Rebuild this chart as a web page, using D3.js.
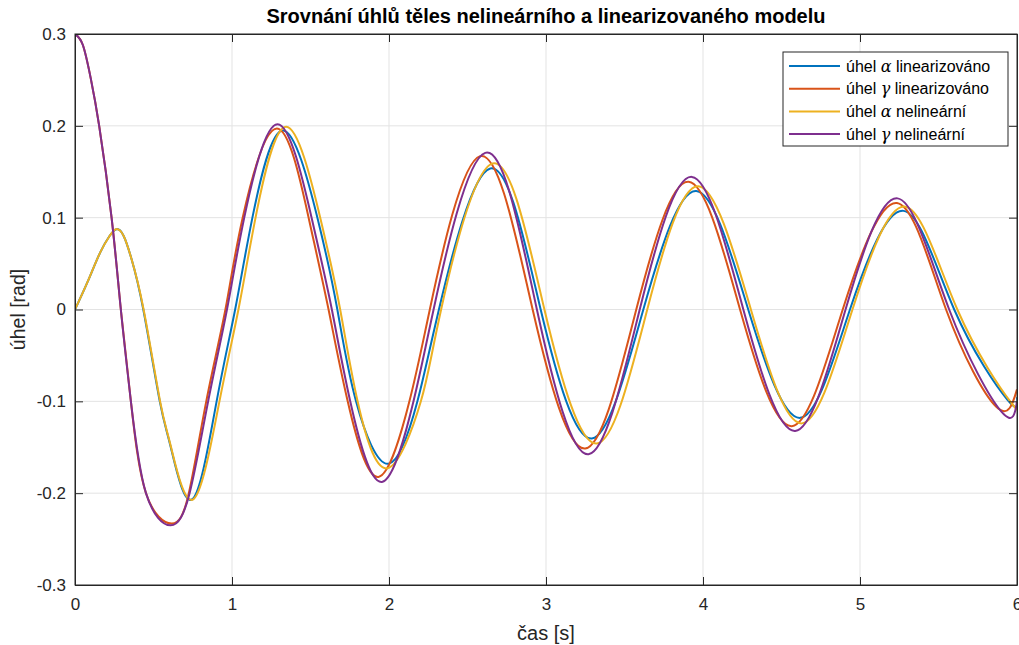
<!DOCTYPE html>
<html>
<head>
<meta charset="utf-8">
<script src="https://cdn.jsdelivr.net/npm/d3@7"></script>
<style>
	body { margin: 0; background: #fff; }
	svg { display: block; }
</style>
</head>
<body>
<div id="chart"></div>
<script>
// uhly teles - linearizovany vs nelinearni model

// [t, uhel] body (extremy a pruchody hladinami)
var alphaLin = [
	[0, 0], [0.08, 0.03], [0.16, 0.062], [0.22, 0.08], [0.265, 0.0875], [0.31, 0.08],
	[0.36, 0.055], [0.435, 0], [0.54, -0.1], [0.61, -0.15], [0.748, -0.2065],
	[0.902, -0.1], [1.02, 0], [1.13, 0.1], [1.325, 0.195], [1.544, 0.1], [1.671, 0],
	[1.79, -0.1], [1.997, -0.168], [2.181, -0.1], [2.318, 0], [2.645, 0.1536], [2.966, 0],
	[3.292, -0.1405], [3.62, 0], [3.957, 0.129], [4.288, 0], [4.619, -0.118], [4.936, 0],
	[5.277, 0.1074], [5.6, 0], [5.942, -0.0988], [6, -0.0955]
];
var gammaLin = [
	[0, 0.3], [0.05, 0.288], [0.1, 0.252], [0.154, 0.2], [0.233, 0.1], [0.292, 0],
	[0.356, -0.1], [0.452, -0.2], [0.616, -0.233], [0.725, -0.2], [0.836, -0.1], [0.958, 0],
	[1.068, 0.1], [1.286, 0.197], [1.488, 0.1], [1.615, 0], [1.737, -0.1], [1.933, -0.1823],
	[2.13, -0.1], [2.26, 0], [2.58, 0.167], [2.915, 0], [3.25, -0.1514], [3.575, 0],
	[3.908, 0.139], [4.236, 0], [4.566, -0.127], [4.89, 0], [5.235, 0.116], [5.548, 0],
	[5.868, -0.106], [6, -0.087]
];
var alphaNl = [
	[0, 0], [0.08, 0.03], [0.16, 0.062], [0.22, 0.08], [0.262, 0.0875], [0.31, 0.08],
	[0.36, 0.055], [0.437, 0], [0.542, -0.1], [0.612, -0.15], [0.755, -0.2065],
	[0.92, -0.1], [1.041, 0], [1.15, 0.1], [1.345, 0.199], [1.562, 0.1], [1.689, 0],
	[1.8, -0.1], [1.987, -0.173], [2.203, -0.1], [2.332, 0], [2.66, 0.159], [2.99, 0],
	[3.324, -0.146], [3.645, 0], [3.971, 0.1343], [4.305, 0], [4.63, -0.124], [4.952, 0],
	[5.288, 0.112], [5.62, 0], [5.964, -0.1017], [6, -0.1003]
];
var gammaNl = [
	[0, 0.3], [0.05, 0.288], [0.1, 0.252], [0.154, 0.2], [0.233, 0.1], [0.292, 0],
	[0.356, -0.1], [0.452, -0.2], [0.609, -0.235], [0.73, -0.2], [0.848, -0.1], [0.968, 0],
	[1.078, 0.1], [1.29, 0.2018], [1.507, 0.1], [1.636, 0], [1.753, -0.1], [1.955, -0.1878],
	[2.156, -0.1], [2.284, 0], [2.613, 0.1706], [2.942, 0], [3.271, -0.1576], [3.597, 0],
	[3.929, 0.1444], [4.257, 0], [4.587, -0.1322], [4.908, 0], [5.239, 0.121], [5.568, 0],
	[5.902, -0.1115], [6, -0.1]
];

var seriesNames = [
	["úhel ", "α", " linearizováno"],
	["úhel ", "γ", " linearizováno"],
	["úhel ", "α", " nelineární"],
	["úhel ", "γ", " nelineární"]
];
var seriesColors = ["#0072bd", "#d95319", "#edb120", "#7e2f8e"];
var xTicks = [0, 1, 2, 3, 4, 5, 6];
var yTicks = [-0.3, -0.2, -0.1, 0, 0.1, 0.2, 0.3];

drawChart();

function drawChart() {
	var w = 1019,
		h = 645,
		pLeft = 75,
		pRight = 1017,
		pTop = 34,
		pBottom = 585,
		tickLen = 8,
		textColor = "#262626",
		font = "'Liberation Sans', Arial, Helvetica, sans-serif";

	var svg = d3.select("#chart")
		.append("svg")
		.attr("width", w)
		.attr("height", h)
		.style("background", "#fff");

	var x = d3.scaleLinear().domain([0, 6]).range([pLeft, pRight]);
	var y = d3.scaleLinear().domain([-0.3, 0.3]).range([pBottom, pTop]);

	// mrizka
	svg.append("g")
		.selectAll("line")
		.data(xTicks.slice(1, -1))
		.enter().append("line")
		.attr("x1", function(d) { return x(d); })
		.attr("x2", function(d) { return x(d); })
		.attr("y1", pTop)
		.attr("y2", pBottom)
		.attr("stroke", "#e3e3e3")
		.attr("stroke-width", 1);

	svg.append("g")
		.selectAll("line")
		.data(yTicks.slice(1, -1))
		.enter().append("line")
		.attr("x1", pLeft)
		.attr("x2", pRight)
		.attr("y1", function(d) { return y(d); })
		.attr("y2", function(d) { return y(d); })
		.attr("stroke", "#e3e3e3")
		.attr("stroke-width", 1);

	svg.append("clipPath")
		.attr("id", "plotClip")
		.append("rect")
		.attr("x", pLeft)
		.attr("y", pTop)
		.attr("width", pRight - pLeft)
		.attr("height", pBottom - pTop);

	var line = d3.line()
		.x(function(d) { return x(d[0]); })
		.y(function(d) { return y(d[1]); })
		.curve(d3.curveNatural);

	var allSeries = [alphaLin, gammaLin, alphaNl, gammaNl];

	svg.append("g")
		.attr("clip-path", "url(#plotClip)")
		.selectAll("path")
		.data(allSeries)
		.enter().append("path")
		.attr("d", line)
		.attr("fill", "none")
		.attr("stroke", function(d, i) { return seriesColors[i]; })
		.attr("stroke-width", 2);

	// osy - spodni a leva s popisky, horni a prava jen ticky
	svg.append("g")
		.attr("transform", "translate(0," + pBottom + ")")
		.call(d3.axisBottom(x).tickValues(xTicks).tickSizeInner(-tickLen).tickSizeOuter(0).tickPadding(13)
			.tickFormat(function(d) { return String(d); }));

	svg.append("g")
		.attr("transform", "translate(" + pLeft + ",0)")
		.call(d3.axisLeft(y).tickValues(yTicks).tickSizeInner(-tickLen).tickSizeOuter(0).tickPadding(9)
			.tickFormat(function(d) { return d === 0 ? "0" : d.toFixed(1); }));

	svg.append("g")
		.attr("transform", "translate(0," + pTop + ")")
		.call(d3.axisTop(x).tickValues(xTicks).tickSizeInner(-tickLen).tickSizeOuter(0).tickFormat(""));

	svg.append("g")
		.attr("transform", "translate(" + pRight + ",0)")
		.call(d3.axisRight(y).tickValues(yTicks).tickSizeInner(-tickLen).tickSizeOuter(0).tickFormat(""));

	svg.selectAll(".domain").attr("stroke", textColor);
	svg.selectAll(".tick line").attr("stroke", textColor);
	svg.selectAll(".tick text")
		.attr("fill", textColor)
		.attr("font-family", font)
		.attr("font-size", "17px");

	// ramecek
	svg.append("rect")
		.attr("x", pLeft)
		.attr("y", pTop)
		.attr("width", pRight - pLeft)
		.attr("height", pBottom - pTop)
		.attr("fill", "none")
		.attr("stroke", textColor)
		.attr("stroke-width", 1);

	// titulek a popisky os
	svg.append("text")
		.attr("x", (pLeft + pRight) / 2)
		.attr("y", 23)
		.attr("text-anchor", "middle")
		.attr("font-family", font)
		.attr("font-size", "20px")
		.attr("font-weight", "bold")
		.attr("fill", "#000")
		.text("Srovnání úhlů těles nelineárního a linearizovaného modelu");

	svg.append("text")
		.attr("x", (pLeft + pRight) / 2)
		.attr("y", 640)
		.attr("text-anchor", "middle")
		.attr("font-family", font)
		.attr("font-size", "20px")
		.attr("fill", textColor)
		.text("čas [s]");

	svg.append("text")
		.attr("transform", "translate(25," + (pTop + pBottom) / 2 + ") rotate(-90)")
		.attr("text-anchor", "middle")
		.attr("font-family", font)
		.attr("font-size", "19.5px")
		.attr("fill", textColor)
		.text("úhel [rad]");

	// legenda
	var legend = svg.append("g")
		.attr("transform", "translate(783,52)");

	legend.append("rect")
		.attr("width", 225)
		.attr("height", 94)
		.attr("fill", "#fff")
		.attr("stroke", textColor)
		.attr("stroke-width", 1);

	var rows = legend.selectAll("g.row")
		.data(seriesNames)
		.enter().append("g")
		.attr("class", "row")
		.attr("transform", function(d, i) { return "translate(0," + (14 + i * 22.7) + ")"; });

	rows.append("line")
		.attr("x1", 6)
		.attr("x2", 57)
		.attr("stroke", function(d, i) { return seriesColors[i]; })
		.attr("stroke-width", 2);

	var label = rows.append("text")
		.attr("x", 63)
		.attr("dy", "0.35em")
		.attr("font-family", font)
		.attr("font-size", "16px")
		.attr("fill", "#000");

	label.append("tspan").text(function(d) { return d[0]; });
	label.append("tspan")
		.attr("font-family", "'DejaVu Serif', 'Liberation Serif', serif")
		.attr("font-style", "italic")
		.text(function(d) { return d[1]; });
	label.append("tspan").text(function(d) { return d[2]; });
}
</script>
</body>
</html>
